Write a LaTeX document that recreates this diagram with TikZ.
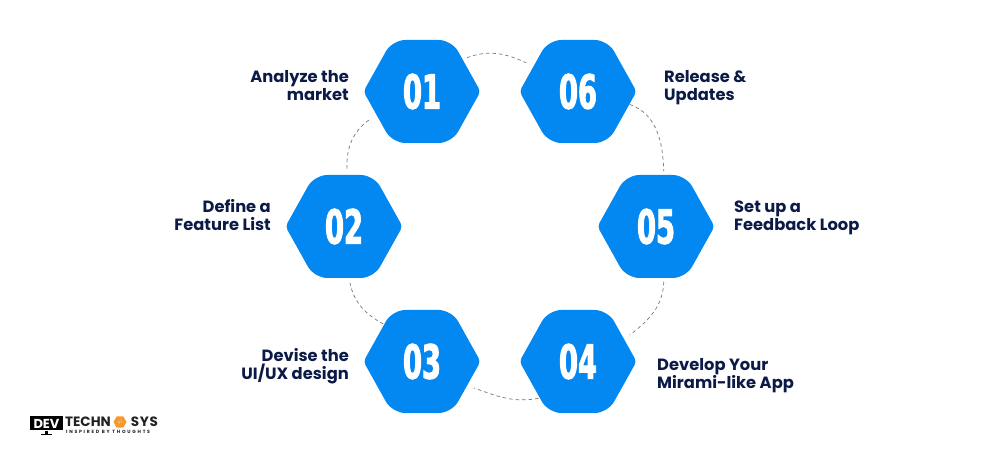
\documentclass[tikz,border=0pt]{standalone}
\usepackage{fontspec}
\setmainfont{Poppins}
\newfontfamily\numfont[FakeStretch=0.58, FakeBold=2]{DejaVu Sans Bold}
\usetikzlibrary{backgrounds, positioning, shapes.geometric}
\definecolor{hexblue}{HTML}{0387F0}
\definecolor{labelnavy}{HTML}{0B1A46}
\definecolor{dashgray}{HTML}{777777}
\definecolor{logoorange}{HTML}{F39A2B}
\definecolor{logoink}{HTML}{222222}

\begin{document}
\begin{tikzpicture} [%
    x = 1pt,
    y = 1pt,
    on grid,
    node distance = 156pt,
    hexnode/.style = {%
      regular polygon,
      regular polygon sides = 6,
      shape border rotate = 30,
      minimum size = 119pt,
      inner sep = 0pt,
      text = white,
      font = \numfont\fontsize{47}{47}\selectfont },
    leftlabel/.style = {%
      align = right,
      anchor = east,
      inner sep = 0pt,
      text = labelnavy,
      font = \bfseries\fontsize{16.3}{18}\selectfont },
    rightlabel/.style = {%
      align = left,
      anchor = west,
      inner sep = 0pt,
      text = labelnavy,
      font = \bfseries\fontsize{16.3}{18}\selectfont },
    ring/.style = {%
      draw = dashgray,
      line width = 0.7pt,
      dash pattern = on 3.5pt off 3pt }
  ]

  \useasboundingbox (0,0) rectangle (1000,454);

  % hexagons
  \node[hexnode] (hexa) at (422,362.5) {01};
  \node[hexnode, right=of hexa] (hexf) {06};
  \node[hexnode] (hexb) at (344,227.5) {02};
  \node[hexnode] (hexe) at (656,227.5) {05};
  \node[hexnode] (hexc) at (422,92.5) {03};
  \node[hexnode, right=of hexc] (hexd) {04};

  \begin{scope}[on background layer]
    \foreach \hex in {hexa, hexb, hexc, hexd, hexe, hexf}
      \fill [hexblue, shift = {(\hex.center)}]
        (0,51.5) [rounded corners = 13pt] -- (29.75,51.5)
        [rounded corners = 4pt] -- (58.5,0)
        [rounded corners = 13pt] -- (29.75,-51.5)
        -- (-29.75,-51.5)
        [rounded corners = 4pt] -- (-58.5,0)
        [rounded corners = 13pt] -- (-29.75,51.5)
        -- cycle;
  \end{scope}

  % labels
  \node[leftlabel] (laba) at (349,368) {Analyze the\\market};
  \node[leftlabel] (labb) at (271,239) {Define a\\Feature List};
  \node[leftlabel] (labc) at (349,88) {Devise the\\UI/UX design};
  \node[rightlabel] (labf) at (664,366) {Release \&\\Updates};
  \node[rightlabel] (labe) at (734,236) {Set up a\\Feedback Loop};
  \node[rightlabel] (labd) at (657,78) {Develop Your\\Mirami-like App};

  % dashed ring
  \path[ring]
  (hexa.37) edge [out=20, in=155] (hexf.151)
  (hexf.-14) edge [out=-20, in=92] (hexe.82)
  (hexe.-82) edge [out=-92, in=38] (hexd.27)
  (hexd.223) edge [out=190, in=-20] (hexc.-27)
  (hexc.136) edge [out=150, in=-78] (hexb.-84)
  (hexb.87) edge [out=92, in=215] (hexa.208);

  % logo
  \node[fill=black, text=white, minimum width=33pt, minimum height=14pt, inner sep=0pt,
    font=\bfseries\fontsize{13}{13}\selectfont] (logobox) at (46.5,30.5) {DEV};
  \coordinate (logostand) at (46.5,19);
  \coordinate (logobasel) at (41,19);
  \coordinate (logobaser) at (52,19);
  \draw[black, line width=2.5pt] (logobox.south) -- (logostand);
  \draw[black, line width=1pt] (logobasel) -- (logobaser);
  \node[anchor=west, inner sep=0pt, text=logoink,
    font=\bfseries\fontsize{13.5}{13.5}\selectfont] (logotech) at (65,32) {TECHN};
  \node[regular polygon, regular polygon sides=6, fill=logoorange, text=white, inner sep=0pt,
    minimum size=13pt, font=\fontsize{3.5}{3.5}\selectfont] (logohex) at (120,32) {</>};
  \node[anchor=east, inner sep=0pt, text=logoink,
    font=\bfseries\fontsize{13.5}{13.5}\selectfont\addfontfeatures{LetterSpace=5}] (logosys) at (158,32) {SYS};
  \node[anchor=west, inner sep=0pt, text=logoink,
    font=\bfseries\fontsize{4.6}{4.6}\selectfont\addfontfeatures{LetterSpace=38}] (logotag) at (66,22) {INSPIRED BY THOUGHTS};

\end{tikzpicture}
\end{document}
